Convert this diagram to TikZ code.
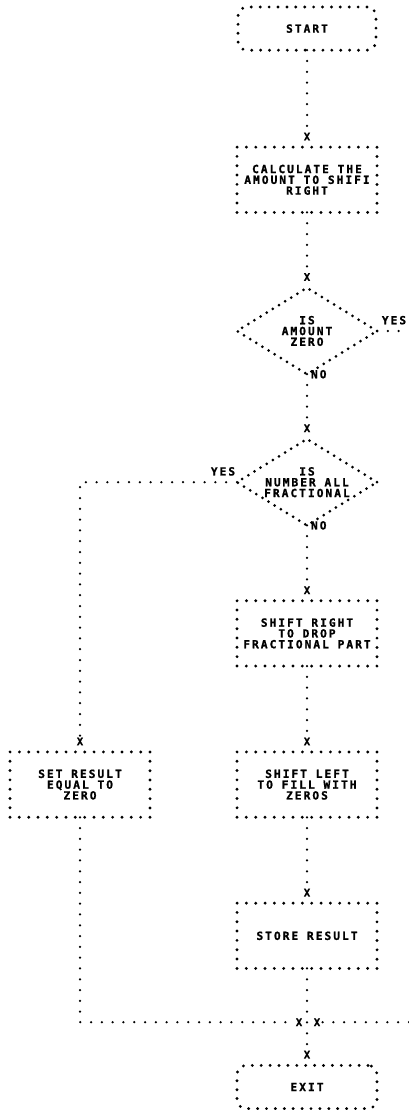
\documentclass[tikz,border=0pt]{standalone}
\usepackage{fontspec}
\usepackage{tikz}
\usetikzlibrary{positioning,shapes.geometric}
\newfontfamily\lpfont[LetterSpace=18,BoldFeatures={FakeBold=1.2}]{DejaVu Sans Mono}

\begin{document}
\begin{tikzpicture}[
  x=1pt,y=-1pt,
  every node/.style={font=\fontsize{11.2}{10.8}\selectfont\lpfont\bfseries,align=center,inner sep=0pt,outer sep=0pt},
  box/.style={draw,line width=3.2pt,line cap=round,dash pattern=on 0pt off 9.33pt,minimum width=140pt,minimum height=65.3pt},
  term/.style={box,rounded corners=9pt,minimum width=138pt,minimum height=43.2pt,dash pattern=on 0pt off 8.9pt},
  dec/.style={diamond,draw,line width=3pt,line cap=round,dash pattern=on 0pt off 7.2pt,minimum width=140pt,minimum height=86.4pt},
  link/.style={line width=2.5pt,line cap=round,dash pattern=on 0pt off 10.8pt},
  tag/.style={font=\fontsize{10.5}{10}\selectfont\lpfont\bfseries}
]
\useasboundingbox (0,0) rectangle (409,1110);

% blocks
\node[term] (start) at (307,28.6) {START};
\node[box] (calc) at (307,179.8) {CALCULATE THE\\AMOUNT TO SHIFI\\RIGHT};
\node[dec,label={center:IS\\AMOUNT\\ZERO}] (zero) at (307,331) {};
\node[dec,label={center:IS\\NUMBER ALL\\FRACTIONAL}] (frac) at (307,482.2) {};
\node[box] (shr) at (307,633.4) {SHIFT RIGHT\\TO DROP\\FRACTIONAL PART};
\node[box] (setz) at (80,784.6) {SET RESULT\\EQUAL TO\\ZERO};
\node[box] (shl) at (307,784.6) {SHIFT LEFT\\TO FILL WITH\\ZEROS};
\node[box] (store) at (307,935.8) {STORE RESULT};
\node[term,minimum width=140pt] (exit) at (307,1087) {EXIT};

% entry marks
\node[tag] (x1) at (307,136.6) {X};
\node[tag] (x2) at (307,277) {X};
\node[tag] (x3) at (307,428.2) {X};
\node[tag] (x4) at (307,590.2) {X};
\node[tag] (x5) at (307,741.4) {X};
\node[tag] (x6) at (80,741.4) {X};
\node[tag] (x7) at (307,892.6) {X};
\node[tag] (x8) at (299,1022.2) {X};
\node[tag] (x9) at (317,1022.2) {X};
\node[tag] (x10) at (307,1054.6) {X};

% branch labels
\node (yes1) at (394,320.2) {YES};
\node[anchor=west] (no1) at (311,374.2) {NO};
\node (yes2) at (223,471.4) {YES};
\node[anchor=west] (no2) at (311,525.4) {NO};

\coordinate (off1) at (409,331);
\coordinate (off2) at (409,1022.2);

\draw[link] (start.south) -- (x1.north);
\draw[link] (calc.south) -- (x2.north);
\draw[link] (zero.south) -- (x3.north);
\draw[link] (zero.east) -- (off1);
\draw[link] (frac.south) -- (x4.north);
\draw[link] (frac.west) -| (x6.north);
\draw[link] (shr.south) -- (x5.north);
\draw[link] (shl.south) -- (x7.north);
\draw[link] (setz.south) |- (x8.west);
\draw[link] (off2) -- (x9.east);
\draw[link] (store.south) -- (x10.north);
\end{tikzpicture}
\end{document}
